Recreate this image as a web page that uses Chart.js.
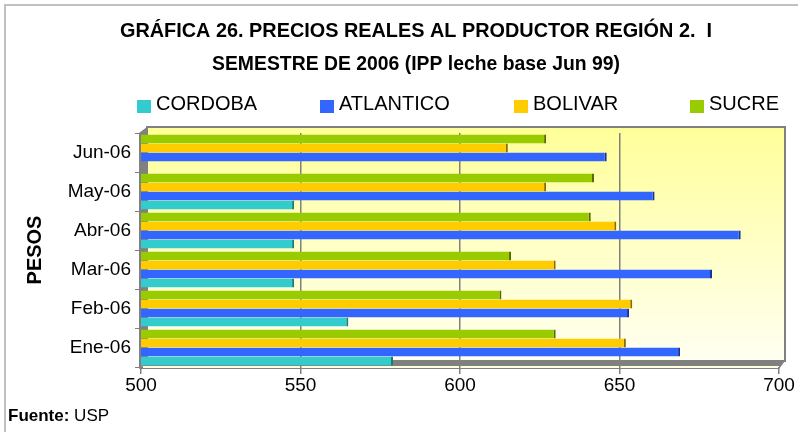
<!DOCTYPE html>
<html>
<head>
<meta charset="utf-8">
<script src="https://cdn.jsdelivr.net/npm/chart.js@4"></script>
<style>
  body { margin: 0; background: #fff; }
  #wrap { width: 798px; height: 432px; position: relative; }
</style>
</head>
<body>
<div id="wrap"><canvas id="preciosChart"></canvas></div>
<script>
// datos
const meses = ['Ene-06', 'Feb-06', 'Mar-06', 'Abr-06', 'May-06', 'Jun-06'];
const cordoba = [579, 565, 548, 548, 548, null];
const atlantico = [669, 653, 679, 688, 661, 646];
const bolivar = [652, 654, 630, 649, 627, 615];
const sucre = [630, 613, 616, 641, 642, 627];
const xTicks = [500, 550, 600, 650, 700];

const titulo1 = 'GRÁFICA 26. PRECIOS REALES AL PRODUCTOR REGIÓN 2.  I';
const titulo2 = 'SEMESTRE DE 2006 (IPP leche base Jun 99)';

const FONT = '"Liberation Sans", Arial, sans-serif';

// fondo, paredes 3D del area de trazado y marco exterior
const fondoPlugin = {
    id: 'fondo',
    beforeDraw(chart) {
        const c = chart.ctx;
        const a = chart.chartArea;
        c.save();
        c.fillStyle = '#fff';
        c.fillRect(0, 0, chart.width, chart.height);
        c.strokeStyle = '#c0c0c0';
        c.lineWidth = 2;
        c.strokeRect(5, 5, chart.width + 10, chart.height + 10);

        // pared del fondo con degradado
        const d = 6;
        const g = c.createLinearGradient(0, a.top - d, 0, a.bottom);
        g.addColorStop(0, '#ffff99');
        g.addColorStop(1, '#fffff4');
        c.fillStyle = g;
        c.fillRect(a.left + d, a.top - d, a.right - a.left, a.bottom - a.top);
        c.strokeStyle = '#808080';
        c.lineWidth = 2;
        c.strokeRect(a.left + d, a.top - d, a.right - a.left, a.bottom - a.top);

        // pared izquierda
        c.fillStyle = '#808080';
        c.beginPath();
        c.moveTo(a.left - 2, a.top);
        c.lineTo(a.left + d, a.top - d);
        c.lineTo(a.left + d, a.bottom - d);
        c.lineTo(a.left - 2, a.bottom + 2);
        c.closePath();
        c.fill();

        // piso
        c.beginPath();
        c.moveTo(a.left - 2, a.bottom + 2);
        c.lineTo(a.left + d, a.bottom - d);
        c.lineTo(a.right + d, a.bottom - d);
        c.lineTo(a.right, a.bottom + 2);
        c.closePath();
        c.fill();
        c.fillStyle = '#ffffe0';
        c.fillRect(a.left + 2, a.bottom - 1, a.right - a.left - 2, 2);
        c.restore();
    }
};

function textoAjustado(c, txt, xc, y, ancho) {
    const w = c.measureText(txt).width;
    const s = Math.min(1, ancho / w);
    c.save();
    c.translate(xc, y);
    c.scale(s, 1);
    c.fillText(txt, 0, 0);
    c.restore();
}

// titulo, leyenda y fuente
const textosPlugin = {
    id: 'textos',
    afterDraw(chart) {
        const c = chart.ctx;
        c.save();
        c.fillStyle = '#000';
        c.textBaseline = 'middle';
        c.textAlign = 'center';
        c.font = 'bold 21px ' + FONT;
        textoAjustado(c, titulo1, 416, 31, 592);
        textoAjustado(c, titulo2, 416, 64, 408);

        // leyenda en el orden del original
        const xs = [137, 320, 514, 690];
        const items = chart.data.datasets.slice().reverse();
        c.textAlign = 'left';
        c.font = '20px ' + FONT;
        items.forEach((ds, i) => {
            c.fillStyle = ds.backgroundColor;
            c.fillRect(xs[i], 100, 14, 13);
            c.fillStyle = '#000';
            c.fillText(ds.label, xs[i] + 19, 104);
        });

        c.font = 'bold 17px ' + FONT;
        c.fillText('Fuente:', 8, 416);
        const w = c.measureText('Fuente: ').width;
        c.font = '17px ' + FONT;
        c.fillText('USP', 8 + w, 416);
        c.restore();
    }
};

const ctx = document.getElementById('preciosChart').getContext('2d');
const preciosChart = new Chart(ctx, {
    type: 'bar',
    data: {
        labels: meses,
        datasets: [
            { label: 'SUCRE', data: sucre, backgroundColor: '#99cc00', borderColor: '#556b00' },
            { label: 'BOLIVAR', data: bolivar, backgroundColor: '#ffcc00', borderColor: '#8a6a00' },
            { label: 'ATLANTICO', data: atlantico, backgroundColor: '#3366ff', borderColor: '#1a3399' },
            { label: 'CORDOBA', data: cordoba, backgroundColor: '#33cccc', borderColor: '#1a7a7a' }
        ]
    },
    options: {
        indexAxis: 'y',
        responsive: true,
        maintainAspectRatio: false,
        animation: false,
        layout: { padding: { top: 133, right: 19, left: 0, bottom: 0 } },
        datasets: {
            bar: {
                categoryPercentage: 0.92,
                barPercentage: 1.0,
                borderWidth: { top: 0, right: 2, bottom: 0, left: 0 },
                borderSkipped: false
            }
        },
        plugins: {
            legend: { display: false },
            title: { display: false },
            tooltip: { enabled: false }
        },
        scales: {
            x: {
                type: 'linear',
                min: 500,
                max: 700,
                afterBuildTicks: s => { s.ticks = xTicks.map(v => ({ value: v })); },
                afterFit: s => { s.height = 65; },
                grid: {
                    color: c => (c.tick && (c.tick.value === 500 || c.tick.value === 700)) ? 'rgba(0,0,0,0)' : '#808080',
                    lineWidth: 1.5,
                    tickLength: 7,
                    tickColor: '#808080'
                },
                border: { display: false },
                ticks: {
                    color: '#000',
                    padding: 0,
                    font: { family: FONT, size: 19 }
                }
            },
            y: {
                reverse: true,
                afterFit: s => { s.width = 141; },
                grid: {
                    drawOnChartArea: false,
                    tickLength: 6,
                    tickColor: '#808080'
                },
                border: { display: false },
                ticks: {
                    color: '#000',
                    padding: 4,
                    font: { family: FONT, size: 19 }
                },
                title: {
                    display: true,
                    text: 'PESOS',
                    color: '#000',
                    padding: { top: 23, bottom: 0 },
                    font: { family: FONT, size: 20, weight: 'bold' }
                }
            }
        }
    },
    plugins: [fondoPlugin, textosPlugin]
});
</script>
</body>
</html>
